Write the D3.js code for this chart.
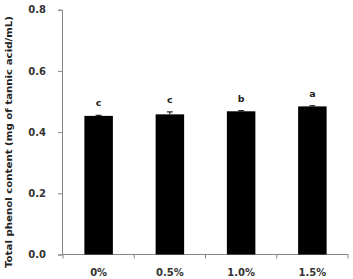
<!DOCTYPE html>
<html><head><meta charset="utf-8">
<script src="https://cdn.jsdelivr.net/npm/d3@7"></script>
<style>body{margin:0;background:#fff}svg{display:block}</style>
</head><body>
<svg id="c" width="353" height="279"></svg>
<script>
const categories = ["0%", "0.5%", "1.0%", "1.5%"];
const values = [0.453, 0.458, 0.468, 0.484];
const errors = [0.002, 0.008, 0.002, 0.002];
const letters = ["c", "c", "b", "a"];
const yTicks = [0.0, 0.2, 0.4, 0.6, 0.8];
const yLabel = "Total phenol content  (mg of tannic acid/mL)";

const svg = d3.select("#c");
const font = "'DejaVu Sans', Verdana, sans-serif";
const axisColor = "#868686";
const x = d3.scaleBand().domain(categories).range([63, 348]).paddingInner(0.6).paddingOuter(0.3);
const y = d3.scaleLinear().domain([0, 0.8]).range([254.5, 9.7]);

// y axis
const ya = svg.append("g").attr("transform", "translate(62,0)")
  .call(d3.axisLeft(y).tickValues(yTicks).tickFormat(d3.format(".1f")).tickSizeOuter(0).tickSize(4).tickPadding(12));
ya.select(".domain").attr("stroke", axisColor);
ya.selectAll(".tick line").attr("stroke", axisColor);
ya.selectAll("text").attr("font-family", font).attr("font-weight", "bold").attr("font-size", 10).attr("fill", "#333");

// x axis
const xa = svg.append("g").attr("transform", "translate(0,254.5)")
  .call(d3.axisBottom(x).tickSize(0).tickPadding(14));
xa.select(".domain").attr("stroke", axisColor).attr("d", "M62,0H348");
xa.selectAll("text").attr("font-family", font).attr("font-weight", "bold").attr("font-size", 10).attr("fill", "#333");
// boundary ticks
const step = x.step();
const bounds = d3.range(categories.length + 1).map(i => x(categories[0]) - x.step() * x.paddingOuter() + i * step);
svg.append("g").selectAll("line").data(bounds).join("line")
  .attr("x1", d => d).attr("x2", d => d).attr("y1", 254.5).attr("y2", 258.5).attr("stroke", axisColor);

// bars
svg.append("g").selectAll("rect").data(values).join("rect")
  .attr("x", (d, i) => x(categories[i])).attr("width", x.bandwidth())
  .attr("y", d => y(d)).attr("height", d => y(0) - y(d)).attr("fill", "#000");

// error bars
const eb = svg.append("g").attr("stroke", "#000").attr("stroke-width", 1);
values.forEach((v, i) => {
  const cx = x(categories[i]) + x.bandwidth() / 2;
  eb.append("line").attr("x1", cx).attr("x2", cx).attr("y1", y(v)).attr("y2", y(v + errors[i]));
  eb.append("line").attr("x1", cx - 3).attr("x2", cx + 3).attr("y1", y(v + errors[i])).attr("y2", y(v + errors[i]));
});

// letters
svg.append("g").selectAll("text").data(letters).join("text")
  .attr("x", (d, i) => x(categories[i]) + x.bandwidth() / 2)
  .attr("y", (d, i) => y(values[i] + errors[i]) - 9)
  .attr("text-anchor", "middle").attr("font-family", font).attr("font-weight", "bold")
  .attr("font-size", 9.5).attr("fill", "#222").text(d => d);

// y label
svg.append("text").attr("transform", "translate(12,142) rotate(-90)")
  .attr("text-anchor", "middle").attr("font-family", font).attr("font-weight", "bold")
  .attr("font-size", 9.5).attr("textLength", 252).attr("lengthAdjust", "spacingAndGlyphs")
  .attr("fill", "#222").text(yLabel);
</script>
</body></html>
